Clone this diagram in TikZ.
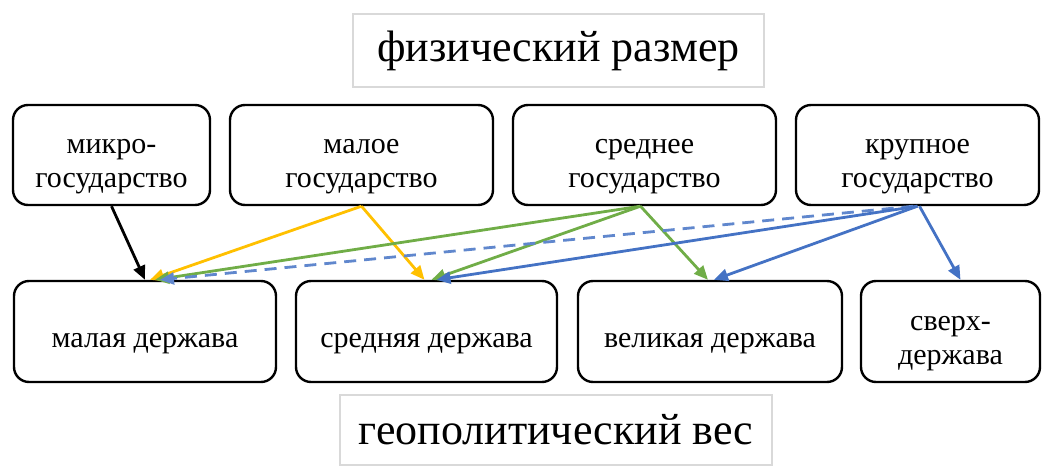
\documentclass[tikz,border=0pt]{standalone}
\usepackage{fontspec}
\setmainfont{Liberation Serif}
\usetikzlibrary{arrows.meta}
\definecolor{ygold}{HTML}{FFC000}
\definecolor{ggreen}{HTML}{70AD47}
\definecolor{bblue}{HTML}{4472C4}
\newcommand{\lift}{\rule{0pt}{19pt}}

\begin{document}
\begin{tikzpicture}[x=0.5pt,y=-0.5pt]
	\tikzstyle{state} = [draw,rounded corners=7.5pt,line width=1.2pt,align=center,inner sep=0pt,font=\fontsize{15}{17}\selectfont]
	\tikzstyle{title} = [draw=black!15,line width=0.6pt,inner sep=0pt,font=\fontsize{22}{26}\selectfont]
	\tikzstyle{link} = [-{Triangle[length=7pt,width=6pt]},line width=1.4pt]
	
	\useasboundingbox (0,0) rectangle (1051,466);
	
	\node[title,minimum width=205.5pt,minimum height=36.5pt] (size) at (558.5,50.5) {физический размер};
	\node[title,minimum width=216pt,minimum height=35pt] (weight) at (556,430) {геополитический вес};
	
	% physical size
	\node[state,minimum width=98.5pt,minimum height=50pt] (s1) at (111.5,155) {\lift микро-\\государство};
	\node[state,minimum width=131.5pt,minimum height=50pt] (s2) at (361.5,155) {\lift малое\\государство};
	\node[state,minimum width=131.5pt,minimum height=50pt] (s3) at (644.5,155) {\lift среднее\\государство};
	\node[state,minimum width=121.5pt,minimum height=50pt] (s4) at (917.5,155) {\lift крупное\\государство};
	
	% geopolitical weight
	\node[state,minimum width=131pt,minimum height=50.5pt] (p1) at (145,331.5) {\lift малая держава};
	\node[state,minimum width=130.5pt,minimum height=50.5pt] (p2) at (426.5,331.5) {\lift средняя держава};
	\node[state,minimum width=132pt,minimum height=50.5pt] (p3) at (710,331.5) {\lift великая держава};
	\node[state,minimum width=89.5pt,minimum height=50.5pt] (p4) at (950.5,331.5) {\lift сверх-\\держава};
	
	\draw[link] (s1.south) -- (p1.north);
	
	\draw[link,ygold] (s2.south) -- ([xshift=2.5pt]p1.north);
	\draw[link,ygold] (s2.south) -- ([xshift=-1pt]p2.north);
	
	\draw[link,ggreen] ([xshift=-2pt]s3.south) -- ([xshift=5pt]p1.north);
	\draw[link,ggreen] ([xshift=-2pt]s3.south) -- ([xshift=2.5pt]p2.north);
	\draw[link,ggreen] ([xshift=-2pt]s3.south) -- ([xshift=-1pt]p3.north);
	
	\draw[link,bblue!85,dashed,dash pattern=on 6pt off 4pt] ([xshift=-2pt]s4.south) -- ([xshift=7.5pt]p1.north);
	\draw[link,bblue] (s4.south) -- ([xshift=5pt]p2.north);
	\draw[link,bblue] (s4.south) -- ([xshift=2pt]p3.north);
	\draw[link,bblue] ([xshift=1pt]s4.south) -- ([xshift=5pt]p4.north);
\end{tikzpicture}
\end{document}
